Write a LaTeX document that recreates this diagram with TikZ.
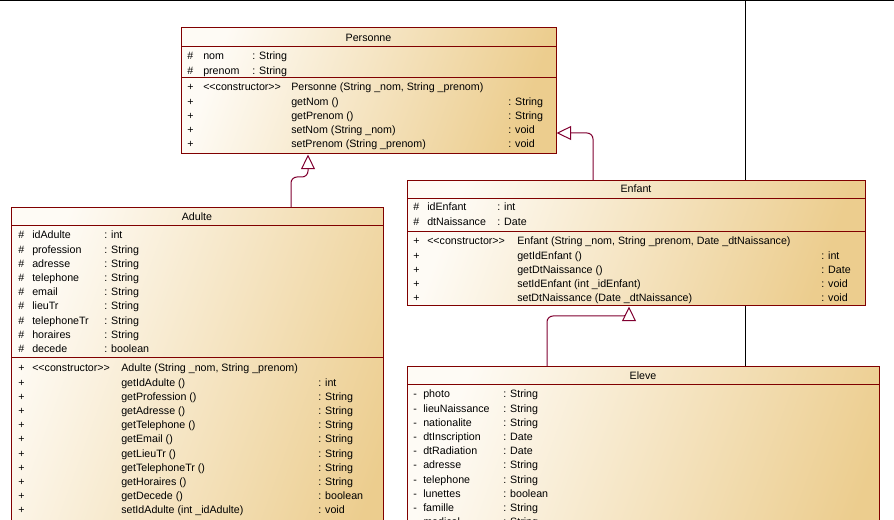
\documentclass[tikz,border=0pt]{standalone}
\usepackage{fontspec}
\setmainfont{Liberation Sans}
\usetikzlibrary{arrows.meta,fit}

\definecolor{classline}{RGB}{128,0,0}
\definecolor{genline}{RGB}{128,0,48}
\definecolor{classlight}{RGB}{254,251,245}
\definecolor{classdark}{RGB}{236,205,142}

\newcommand{\stereo}{<\kern0pt<constructor>\kern0pt>}

\begin{document}
\begin{tikzpicture}[x=0.75pt,y=-0.75pt,
    classbox/.style={draw=classline, line width=0.75pt, inner sep=0pt,
      left color=classlight, right color=classdark, shading angle=70},
    sepline/.style={draw=classline, line width=0.75pt},
    txt/.style={anchor=base west, inner sep=0pt, font=\fontsize{8}{9.6}\selectfont},
    title/.style={anchor=base, inner sep=0pt, font=\fontsize{8}{9.6}\selectfont},
    gen/.style={draw=genline, line width=0.75pt, rounded corners=4.5pt,
      -{Triangle[fill=white, length=11pt, width=10.5pt]}},
    assoc/.style={draw=black, line width=0.75pt}]

    \useasboundingbox (0,0) rectangle (894,520);
    \clip (0,0) rectangle (894,520);

    % Association lines (behind the classes)
    \coordinate (topleft) at (0,0.5);
    \coordinate (topright) at (894,0.5);
    \coordinate (assoctop) at (745,0.5);
    \draw[assoc] (topleft) -- (topright);

    % Class boxes
    \node[classbox, fit={(181,28) (556,154)}] (personne) {};
    \node[classbox, fit={(11,208) (383,620)}] (adulte) {};
    \node[classbox, fit={(407,181) (865,306)}] (enfant) {};
    \node[classbox, fit={(407,367) (879,620)}] (eleve) {};

    \draw[assoc] (assoctop) -- (assoctop |- enfant.north);
    \draw[assoc] (assoctop |- enfant.south) -- (assoctop |- eleve.north);

    % Personne
    \draw[sepline] (181,47) -- (556,47);
    \draw[sepline] (181,78) -- (556,78);
    \node[title] (p-title) at (368.5,42) {Personne};
    \foreach \name/\type [count=\i from 0] in {nom/: String, prenom/: String}{
      \node[txt] (p-v\i) at (187,{60+14.2*\i}) {\#};
      \node[txt] (p-n\i) at (203,{60+14.2*\i}) {\name};
      \node[txt] (p-t\i) at (252,{60+14.2*\i}) {\type};
    }
    \node[txt] (p-st) at (203,91) {\stereo};
    \foreach \meth/\ret [count=\i from 0] in {{Personne (String \_nom, String \_prenom)}/{},
        getNom ()/: String, getPrenom ()/: String,
        setNom (String \_nom)/: void, setPrenom (String \_prenom)/: void}{
      \node[txt] (p-mv\i) at (187,{91+14.2*\i}) {+};
      \node[txt] (p-m\i) at (291,{91+14.2*\i}) {\meth};
      \node[txt] (p-r\i) at (508,{91+14.2*\i}) {\ret};
    }

    % Adulte
    \draw[sepline] (11,226) -- (383,226);
    \draw[sepline] (11,358) -- (383,358);
    \node[title] (a-title) at (197,221) {Adulte};
    \foreach \name/\type [count=\i from 0] in {idAdulte/: int, profession/: String,
        adresse/: String, telephone/: String, email/: String, lieuTr/: String,
        telephoneTr/: String, horaires/: String, decede/: boolean}{
      \node[txt] (a-v\i) at (18,{239+14.2*\i}) {\#};
      \node[txt] (a-n\i) at (32,{239+14.2*\i}) {\name};
      \node[txt] (a-t\i) at (104,{239+14.2*\i}) {\type};
    }
    \node[txt] (a-st) at (32,372) {\stereo};
    \foreach \meth/\ret [count=\i from 0] in {{Adulte (String \_nom, String \_prenom)}/{},
        getIdAdulte ()/: int, getProfession ()/: String, getAdresse ()/: String,
        getTelephone ()/: String, getEmail ()/: String, getLieuTr ()/: String,
        getTelephoneTr ()/: String, getHoraires ()/: String, getDecede ()/: boolean,
        setIdAdulte (int \_idAdulte)/: void, setProfession (String \_profession)/: void}{
      \node[txt] (a-mv\i) at (18,{372+14.2*\i}) {+};
      \node[txt] (a-m\i) at (121,{372+14.2*\i}) {\meth};
      \node[txt] (a-r\i) at (318,{372+14.2*\i}) {\ret};
    }

    % Enfant
    \draw[sepline] (407,199) -- (865,199);
    \draw[sepline] (407,232) -- (865,232);
    \node[title] (e-title) at (636,193) {Enfant};
    \foreach \name/\type [count=\i from 0] in {idEnfant/: int, dtNaissance/: Date}{
      \node[txt] (e-v\i) at (413,{211+14.2*\i}) {\#};
      \node[txt] (e-n\i) at (427,{211+14.2*\i}) {\name};
      \node[txt] (e-t\i) at (497,{211+14.2*\i}) {\type};
    }
    \node[txt] (e-st) at (427,245) {\stereo};
    \foreach \meth/\ret [count=\i from 0] in {{Enfant (String \_nom, String \_prenom, Date \_dtNaissance)}/{},
        getIdEnfant ()/: int, getDtNaissance ()/: Date,
        setIdEnfant (int \_idEnfant)/: void, setDtNaissance (Date \_dtNaissance)/: void}{
      \node[txt] (e-mv\i) at (413,{245+14.2*\i}) {+};
      \node[txt] (e-m\i) at (517,{245+14.2*\i}) {\meth};
      \node[txt] (e-r\i) at (821,{245+14.2*\i}) {\ret};
    }

    % Eleve
    \draw[sepline] (407,385) -- (879,385);
    \node[title] (l-title) at (643,380) {Eleve};
    \foreach \name/\type [count=\i from 0] in {photo/: String, lieuNaissance/: String,
        nationalite/: String, dtInscription/: Date, dtRadiation/: Date,
        adresse/: String, telephone/: String, lunettes/: boolean,
        famille/: String, medical/: String}{
      \node[txt] (l-v\i) at (413,{398+14.2*\i}) {-};
      \node[txt] (l-n\i) at (423,{398+14.2*\i}) {\name};
      \node[txt] (l-t\i) at (503,{398+14.2*\i}) {\type};
    }

    % Generalisations
    \coordinate (adulteup) at (291,177);
    \coordinate (personnedown) at (308,177);
    \draw[gen] (adulteup |- adulte.north) -- (adulteup) -- (personnedown)
      -- (personnedown |- personne.south);
    \coordinate (enfantup) at (593,133);
    \draw[gen] (enfantup |- enfant.north) -- (enfantup) -- (enfantup -| personne.east);
    \coordinate (eleveup) at (547,316);
    \coordinate (enfantdown) at (629,316);
    \draw[gen] (eleveup |- eleve.north) -- (eleveup) -- (enfantdown)
      -- (enfantdown |- enfant.south);
\end{tikzpicture}
\end{document}
